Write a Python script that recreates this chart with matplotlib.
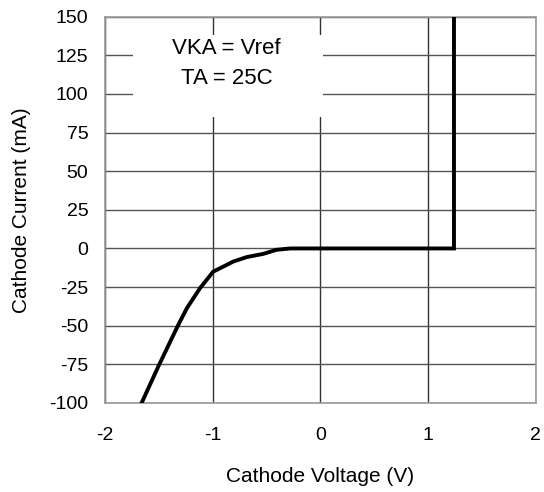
import matplotlib
matplotlib.use("Agg")
import matplotlib.pyplot as plt
from matplotlib.patches import Rectangle

plt.rcParams['font.family'] = ['Liberation Sans', 'DejaVu Sans']
plt.rcParams['axes.unicode_minus'] = False

voltage = [-1.66, -1.505, -1.32, -1.24, -1.118, -0.995, -0.90, -0.81, -0.685, -0.53, -0.41, -0.28, 1.24, 1.24]
current = [-100, -76.4, -49.5, -38.7, -25.7, -15, -11.7, -8.5, -5.6, -3.5, -0.9, 0, 0, 150]
xticks = [-2, -1, 0, 1, 2]
yticks = [-100, -75, -50, -25, 0, 25, 50, 75, 100, 125, 150]

fig = plt.figure(figsize=(5.44, 4.92), dpi=100)
ax = fig.add_axes([0.193, 0.181, 0.792, 0.785])
ax.set_xlim(-2, 2)
ax.set_ylim(-100, 150)
ax.set_xticks(xticks)
ax.set_yticks(yticks)
ax.tick_params(axis='y', length=0, labelsize=14, pad=12)
ax.tick_params(axis='x', length=0, labelsize=14, pad=17)
ax.grid(True, axis='x', color='#333333', linewidth=1.0)
ax.grid(True, axis='y', color='#555555', linewidth=1.0)
ax.set_axisbelow(True)
for s in ax.spines.values():
    s.set_color('#999999')
    s.set_linewidth(1.2)

ax.plot(voltage, current, color='black', linewidth=2.8, zorder=3, solid_joinstyle='miter')

ax.add_patch(Rectangle((-1.74, 85.2), 1.76, 53.1, facecolor='white', edgecolor='none', zorder=2))
ax.text(-0.87, 129.5, 'VKA = Vref', ha='center', va='center', fontsize=16, zorder=4)
ax.text(-0.87, 110, 'TA = 25C', ha='center', va='center', fontsize=16, zorder=4)

ax.set_xlabel('Cathode Voltage (V)', fontsize=15, labelpad=17)
ax.set_ylabel('Cathode Current (mA)', fontsize=15, labelpad=13)

fig.savefig('out.png', dpi=100)
